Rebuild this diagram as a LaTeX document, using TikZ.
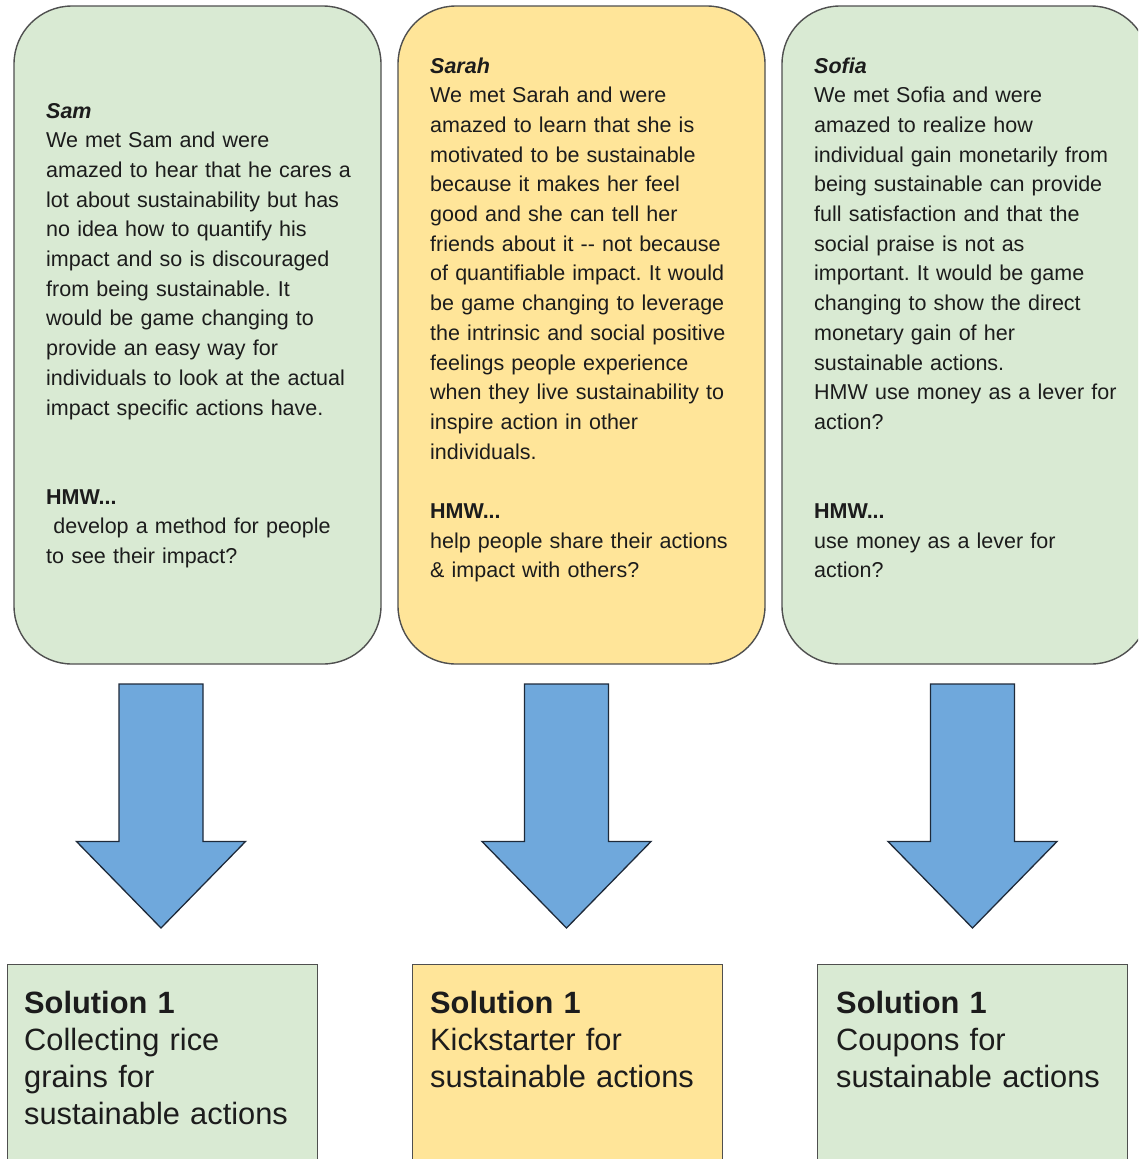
\documentclass[tikz,border=0pt]{standalone}
\usepackage{fontspec}
\setmainfont{Liberation Sans}
\frenchspacing
\definecolor{lgreen}{HTML}{D9EAD3}
\definecolor{lyellow}{HTML}{FFE599}
\definecolor{lblue}{HTML}{6FA8DC}
\definecolor{edgegray}{HTML}{4F4F4F}
\definecolor{arrowedge}{HTML}{1E2A3A}
\definecolor{txt}{HTML}{1C1C1C}
\begin{document}
\begin{tikzpicture}[x=1pt,y=-1pt,
  persona/.style={draw=edgegray, line width=1.4pt, rounded corners=58pt,
    minimum width=367pt, minimum height=658pt, inner sep=0pt},
  solbox/.style={draw=edgegray, line width=1.4pt, minimum width=310pt,
    minimum height=230pt, inner sep=0pt, anchor=north west},
  bodytext/.style={anchor=base west, inner sep=0pt, text width=340pt, align=left,
    text=txt, font=\fontsize{21.5}{29.7}\selectfont\frenchspacing},
  soltext/.style={anchor=base west, inner sep=0pt, text width=300pt, align=left,
    text=txt, font=\fontsize{30.8}{37.3}\selectfont},
  blockarrow/.style={draw=arrowedge, fill=lblue, line width=1.3pt, line join=miter}]
\useasboundingbox (0,0) rectangle (1138,1159);
\clip (0,0) rectangle (1138,1159);

% persona boxes
\node[persona, fill=lgreen]  (sam)   at (197.5,335) {};
\node[persona, fill=lyellow] (sarah) at (581.5,335) {};
\node[persona, fill=lgreen]  (sofia) at (965.5,335) {};

\node[bodytext] (samtxt) at (46,118) {\textbf{\textit{Sam}}\\
We met Sam and were\\
amazed to hear that he cares a\\
lot about sustainability but has\\
no idea how to quantify his\\
impact and so is discouraged\\
from being sustainable. It\\
would be game changing to\\
provide an easy way for\\
individuals to look at the actual\\
impact specific actions have.\\
\mbox{}\\
\mbox{}\\
\textbf{HMW...}\\
\mbox{}\ develop a method for people\\
to see their impact?};

\node[bodytext] (sarahtxt) at (430,73) {\textbf{\textit{Sarah}}\\
We met Sarah and were\\
amazed to learn that she is\\
motivated to be sustainable\\
because it makes her feel\\
good and she can tell her\\
friends about it {-}{-} not because\\
of quantifiable impact. It would\\
be game changing to leverage\\
the intrinsic and social positive\\
feelings people experience\\
when they live sustainability to\\
inspire action in other\\
individuals.\\
\mbox{}\\
\textbf{HMW...}\\
help people share their actions\\
\& impact with others?};

\node[bodytext] (sofiatxt) at (814,73) {\textbf{\textit{Sofia}}\\
We met Sofia and were\\
amazed to realize how\\
individual gain monetarily from\\
being sustainable can provide\\
full satisfaction and that the\\
social praise is not as\\
important. It would be game\\
changing to show the direct\\
monetary gain of her\\
sustainable actions.\\
HMW use money as a lever for\\
action?\\
\mbox{}\\
\mbox{}\\
\textbf{HMW...}\\
use money as a lever for\\
action?};

% block arrows
\foreach \cx/\nm in {161/a1, 566.5/a2, 972.5/a3}{
  \draw[blockarrow] (\cx-42,684) -- (\cx+42,684) -- (\cx+42,841.5) -- (\cx+84.5,841.5)
    -- (\cx,928) -- (\cx-84.5,841.5) -- (\cx-42,841.5) -- cycle;
}

% solution boxes
\node[solbox, fill=lgreen]  (sol1) at (7,964) {};
\node[solbox, fill=lyellow] (sol2) at (411.5,964) {};
\node[solbox, fill=lgreen]  (sol3) at (817,964) {};

\node[soltext] (sol1txt) at (24,1013) {\textbf{Solution 1}\\
Collecting rice\\
grains for\\
sustainable actions};
\node[soltext] (sol2txt) at (430,1013) {\textbf{Solution 1}\\
Kickstarter for\\
sustainable actions};
\node[soltext] (sol3txt) at (836,1013) {\textbf{Solution 1}\\
Coupons for\\
sustainable actions};
\end{tikzpicture}
\end{document}
